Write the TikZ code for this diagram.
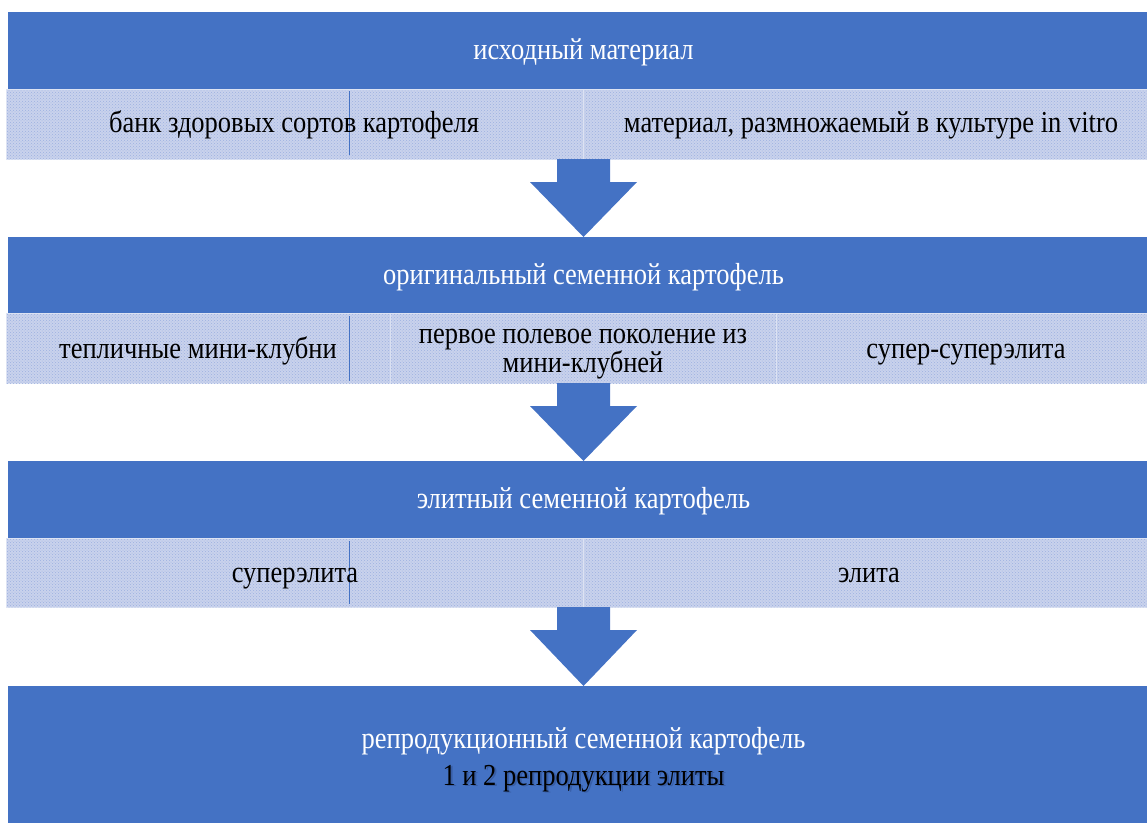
\documentclass[tikz,border=0pt]{standalone}
\usepackage{fontspec}
\usepackage{graphicx}
\setmainfont{Liberation Serif}
\usetikzlibrary{patterns,calc}
\definecolor{barblue}{HTML}{4472C4}
\definecolor{cellfill}{HTML}{C9D2EC}
\definecolor{celldot}{HTML}{9DB0E0}
\definecolor{cellline}{HTML}{DDE3F3}
\definecolor{shadowc}{HTML}{233A70}
\newcommand{\vstr}[1]{\scalebox{1}[1.15]{#1}}
\setlength{\lineskiplimit}{-20pt}
\tikzset{
  bar/.style={fill=barblue, draw=none, inner sep=0pt, anchor=north west},
  cell/.style={fill=cellfill, draw=cellline, line width=1.2pt, inner sep=0pt, anchor=north west},
  cellpat/.style={pattern=crosshatch dots, pattern color=celldot},
  wtext/.style={text=white, font=\fontsize{26.5}{29}\selectfont, inner sep=0pt, anchor=base},
  btext/.style={text=black, font=\fontsize{26.5}{29}\selectfont, inner sep=0pt, align=center, anchor=base},
  sep/.style={draw=barblue, line width=0.8pt},
  arr/.style={fill=barblue, draw=none}
}
\begin{document}
\begin{tikzpicture}[x=1pt,y=-1pt]
\useasboundingbox (0,0) rectangle (1147,823);
% blue bars
\node[bar, minimum width=1139pt, minimum height=77pt] (b1) at (8,12) {};
\node[bar, minimum width=1139pt, minimum height=76pt] (b2) at (8,237) {};
\node[bar, minimum width=1139pt, minimum height=77pt] (b3) at (8,461) {};
\node[bar, minimum width=1139pt, minimum height=137pt] (b4) at (8,686) {};
% row 1 cells
\node[cell, minimum width=577pt, minimum height=70pt] (c11) at (6,89) {};
\node[cell, minimum width=564pt, minimum height=70pt] (c12) at (583,89) {};
% row 2 cells
\node[cell, minimum width=384pt, minimum height=70pt] (c21) at (6,313) {};
\node[cell, minimum width=386pt, minimum height=70pt] (c22) at (390,313) {};
\node[cell, minimum width=371pt, minimum height=70pt] (c23) at (776,313) {};
% row 3 cells
\node[cell, minimum width=577pt, minimum height=69pt] (c31) at (6,538) {};
\node[cell, minimum width=564pt, minimum height=69pt] (c32) at (583,538) {};
% patterns
\foreach \c in {c11,c12,c21,c22,c23,c31,c32}{
  \fill[cellpat] ($(\c.north west)+(1,1)$) rectangle ($(\c.south east)+(-1,-1)$);
}
% thin blue separators
\draw[sep] (349,91) -- (349,155);
\draw[sep] (349,316) -- (349,381);
\draw[sep] (349,541) -- (349,604);
% block arrows
\coordinate (a1) at (583.5,159);
\coordinate (a2) at (583.5,383);
\coordinate (a3) at (583.5,607);
\foreach \a/\b in {a1/b2,a2/b3,a3/b4}{
  \fill[arr] (\a) ++(-26.5,0) -- ++(53,0) -- ++(0,23) -- ++(27,0)
     -- (\b.north -| \a) -- ($(\a)+(-53.5,23)$) -- ($(\a)+(-26.5,23)$) -- cycle;
}
% texts
\node[wtext] (t1) at (583.5,59) {\vstr{исходный материал}};
\node[btext] (t11) at (294,132) {\vstr{банк здоровых сортов картофеля}};
\node[btext] (t12) at (871,132) {\vstr{материал, размножаемый в культуре in vitro}};
\node[wtext] (t2) at (583.5,284) {\vstr{оригинальный семенной картофель}};
\node[btext] (t21) at (198,358) {\vstr{тепличные мини-клубни}};
\node[btext, anchor=center] (t22) at (583,354) {\vstr{первое полевое поколение из}\\\vstr{мини-клубней}};
\node[btext] (t23) at (966,358) {\vstr{супер-суперэлита}};
\node[wtext] (t3) at (583.5,508) {\vstr{элитный семенной картофель}};
\node[btext] (t31) at (295,582) {\vstr{суперэлита}};
\node[btext] (t32) at (869,582) {\vstr{элита}};
\node[wtext] (t4) at (583.5,748) {\vstr{репродукционный семенной картофель}};
\node[btext, text=shadowc, opacity=0.35] at (585.5,786.5) {\vstr{1 и 2 репродукции элиты}};
\node[btext] (t5) at (583.5,785) {\vstr{1 и 2 репродукции элиты}};
\end{tikzpicture}
\end{document}
